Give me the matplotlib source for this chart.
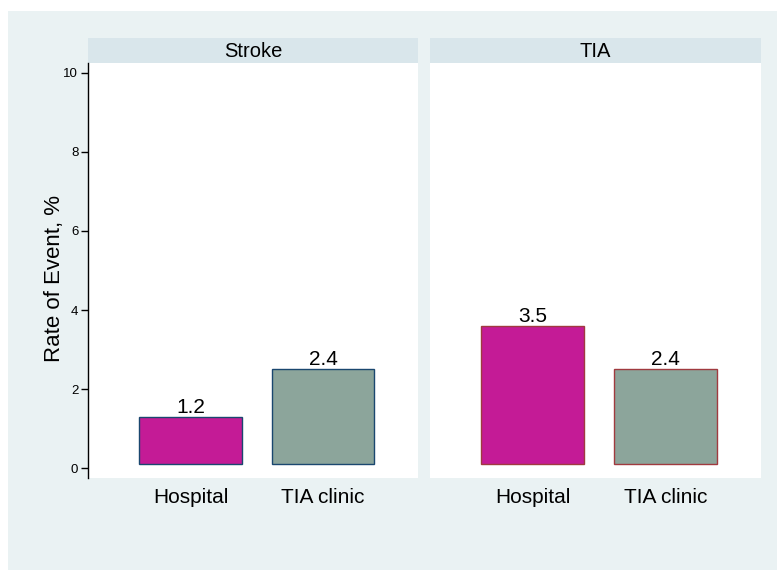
import matplotlib
matplotlib.use('Agg')
import matplotlib.pyplot as plt
from matplotlib.patches import Rectangle

plt.rcParams['font.family'] = ['Liberation Sans', 'DejaVu Sans']

# data
panels = ['Stroke', 'TIA']
groups = ['Hospital', 'TIA clinic']
rates = {'Stroke': [1.2, 2.4], 'TIA': [3.5, 2.4]}
bar_base = 0.1
yticks = [0, 2, 4, 6, 8, 10]

bar_colors = ['#c41b96', '#8ca59b']
edge_colors = {'Stroke': '#1a476f', 'TIA': '#a03a3f'}

W, H = 778, 570
fig = plt.figure(figsize=(W / 100, H / 100), dpi=100)
fig.patch.set_facecolor('white')

# graph region background
fig.patches.append(Rectangle((8 / W, 0), (777 - 8) / W, (570 - 11) / H,
                             transform=fig.transFigure, facecolor='#eaf2f3',
                             edgecolor='none', zorder=-10))

def px_box(x0, y0, x1, y1):
    return [x0 / W, 1 - y1 / H, (x1 - x0) / W, (y1 - y0) / H]

panel_x = [(88, 418), (430, 761)]
for i, name in enumerate(panels):
    x0, x1 = panel_x[i]
    # strip
    strip = fig.add_axes(px_box(x0, 38, x1, 63))
    strip.set_facecolor('#d9e6eb')
    strip.set_xticks([])
    strip.set_yticks([])
    for s in strip.spines.values():
        s.set_visible(False)
    strip.text(0.5, 0.45, name, ha='center', va='center', fontsize=14.5,
               transform=strip.transAxes)

    ax = fig.add_axes(px_box(x0, 63, x1, 478))
    ax.set_facecolor('white')
    vals = rates[name]
    xs = range(len(groups))
    ax.bar(xs, vals, bottom=bar_base, width=0.777, color=bar_colors,
           edgecolor=edge_colors[name], linewidth=1.0)
    for x, v in zip(xs, vals):
        ax.annotate(f'{v:.1f}', (x, v + bar_base), xytext=(0, 0),
                    textcoords='offset points', ha='center', va='bottom',
                    fontsize=15)
    ax.set_xlim(-0.774, 1.717)
    ax.set_ylim(-0.25, 10.25)
    ax.set_xticks(list(xs))
    ax.set_xticklabels(groups, fontsize=15)
    ax.tick_params(axis='x', length=0, pad=7)
    for s in ['top', 'right', 'bottom']:
        ax.spines[s].set_visible(False)
    if i == 0:
        ax.set_yticks(yticks)
        ax.set_yticklabels([str(t) for t in yticks], fontsize=9.5)
        ax.tick_params(axis='y', length=5, width=1, pad=2)
        ax.spines['left'].set_linewidth(1)
        ax.set_ylabel('Rate of Event, %', fontsize=16)
        ax.yaxis.set_label_coords(-0.07, 0.48)
    else:
        ax.spines['left'].set_visible(False)
        ax.set_yticks([])

fig.savefig('out.png', dpi=100)
